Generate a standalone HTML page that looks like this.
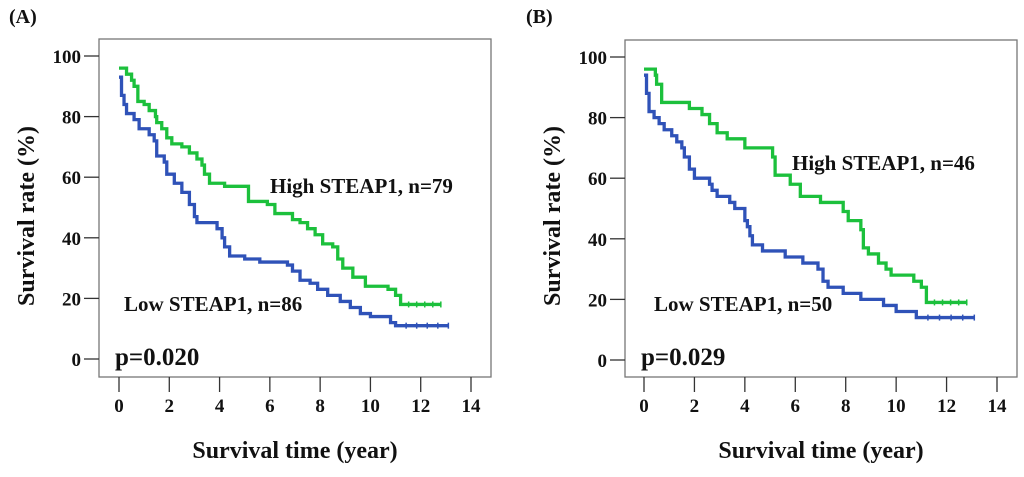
<!DOCTYPE html>
<html><head><meta charset="utf-8"><style>
body{margin:0;background:#fff;width:1024px;height:472px;overflow:hidden}
text{font-family:"Liberation Serif",serif;font-weight:bold;fill:#111}
</style></head><body>
<svg width="1024" height="472">
<g id="A"></g>
<g id="B"></g>
</svg>
<script>
const xTicks=[0,2,4,6,8,10,12,14];
const yTicks=[0,20,40,60,80,100];
const aHighT=[0,0.3,0.5,0.6,0.75,1.0,1.2,1.45,1.5,1.7,1.9,2.1,2.5,2.8,3.1,3.3,3.4,3.6,4.2,5.15,5.9,6.2,6.9,7.2,7.5,7.8,8.1,8.5,8.7,8.9,9.3,9.8,10.7,11.0,11.2];
const aHighS=[96,94,92,90,85,84,82,80,78,76,73,71,70,68,66,64,61,58,57,52,51,48,46,45,43,41,38,37,33,30,27,24,23,21,18];
const aHighEnd=12.8;
const aLowT=[0,0.1,0.2,0.3,0.6,0.8,1.2,1.4,1.5,1.8,1.9,2.2,2.5,2.8,3.0,3.1,3.9,4.1,4.2,4.4,5.0,5.6,6.7,6.9,7.2,7.6,7.9,8.3,8.8,9.2,9.6,10.0,10.8,11.0];
const aLowS=[93,87,84,81,79,76,74,72,67,65,61,58,55,51,47,45,43,40,37,34,33,32,31,29,26,25,23,21,19,17,15,14,12,11];
const aLowEnd=13.1;
const bHighT=[0,0.45,0.5,0.7,1.8,2.3,2.6,2.9,3.3,4.0,5.1,5.2,5.8,6.2,7.0,7.9,8.1,8.6,8.7,8.9,9.3,9.6,9.8,10.7,11.0,11.2];
const bHighS=[96,94,91,85,83,81,78,75,73,70,67,61,58,54,52,49,46,43,37,35,32,30,28,26,24,19];
const bHighEnd=12.8;
const bLowT=[0,0.1,0.2,0.4,0.6,0.8,1.1,1.3,1.5,1.6,1.8,2.0,2.6,2.7,2.9,3.4,3.6,4.0,4.1,4.2,4.3,4.7,5.6,6.3,6.9,7.1,7.3,7.9,8.6,9.5,10.0,10.8];
const bLowS=[94,88,82,80,78,76,74,72,70,67,63,60,58,56,54,52,50,46,44,41,38,36,34,32,30,26,24,22,20,18,16,14];
const bLowEnd=13.1;
const NS='http://www.w3.org/2000/svg';
function mk(p,tag,at,txt){const e=document.createElementNS(NS,tag);for(const k in at)e.setAttribute(k,at[k]);if(txt!==undefined)e.textContent=txt;p.appendChild(e);return e;}
function panel(g,cfg){
  const X=t=>cfg.x0+t*(cfg.x14-cfg.x0)/14, Y=v=>cfg.y0+v*(cfg.y100-cfg.y0)/100;
  let e;
  e=mk(g,'rect',{x:cfg.bl,y:cfg.bt,width:cfg.br-cfg.bl,height:377-cfg.bt,fill:'none',stroke:'#777','stroke-width':1.3});
  
  
  e=mk(g,'text',{x:cfg.lx,y:23,'font-size':20},cfg.label);
  
  
  yTicks.forEach(v=>{
    e=mk(g,'line',{x1:cfg.bl-15,x2:cfg.bl,y1:Y(v),y2:Y(v),stroke:'#333','stroke-width':1.3});
    
    
    e=mk(g,'text',{x:cfg.bl-18,y:Y(v)+7,'font-size':19,'text-anchor':'end'},v);
    
    
  });
  xTicks.forEach(v=>{
    e=mk(g,'line',{x1:X(v),x2:X(v),y1:377,y2:392,stroke:'#333','stroke-width':1.3});
    
    
    e=mk(g,'text',{x:X(v),y:412,'font-size':19,'text-anchor':'middle'},v);
    
    
  });
  e=mk(g,'text',{x:(cfg.bl+cfg.br)/2,y:458,'font-size':24,'text-anchor':'middle'},'Survival time (year)');
  
  
  e=mk(g,'text',{x:0,y:0,'font-size':24,'text-anchor':'middle',transform:`translate(${cfg.bl-65},216) rotate(-90)`},'Survival rate (%)');
  
  
  function curve(T,S,end,color,name){
    let d=`M${X(T[0])},${Y(S[0])}`;
    for(let i=1;i<T.length;i++){d+=` H${X(T[i])} V${Y(S[i])}`;}
    d+=` H${X(end)}`;
    e=mk(g,'path',{d:d,fill:'none',stroke:color,'stroke-width':3.3});
    
    
    const last=S[S.length-1],t0=T[T.length-1];
    for(let k=1;k<=5;k++){const t=t0+(end-t0)*k/5;
      e=mk(g,'line',{x1:X(t),x2:X(t),y1:Y(last)-3,y2:Y(last)+3,stroke:color,'stroke-width':1.5});
      
      }
  }
  curve(cfg.hT,cfg.hS,cfg.hE,'#1cc03c','high-steap1-curve');
  curve(cfg.lT,cfg.lS,cfg.lE,'#2f52b8','low-steap1-curve');
  e=mk(g,'text',{x:cfg.hx,y:cfg.hy,'font-size':21},cfg.hText);
  
  
  e=mk(g,'text',{x:cfg.lxx,y:cfg.ly,'font-size':21},cfg.lText);
  
  
  e=mk(g,'text',{x:cfg.bl+16,y:365,'font-size':25},cfg.p);
  
  
}
panel(document.getElementById('A'),{x0:119,x14:471,y0:359,y100:56,bl:99,br:491,bt:39,lx:9,label:'(A)',
 hT:aHighT,hS:aHighS,hE:aHighEnd,lT:aLowT,lS:aLowS,lE:aLowEnd,
 hx:270,hy:193,hText:'High STEAP1, n=79',lxx:124,ly:311,lText:'Low STEAP1, n=86',p:'p=0.020'});
panel(document.getElementById('B'),{x0:644,x14:997,y0:360,y100:57,bl:625,br:1017,bt:40,lx:526,label:'(B)',
 hT:bHighT,hS:bHighS,hE:bHighEnd,lT:bLowT,lS:bLowS,lE:bLowEnd,
 hx:792,hy:170,hText:'High STEAP1, n=46',lxx:654,ly:311,lText:'Low STEAP1, n=50',p:'p=0.029'});
</script>
</body></html>
